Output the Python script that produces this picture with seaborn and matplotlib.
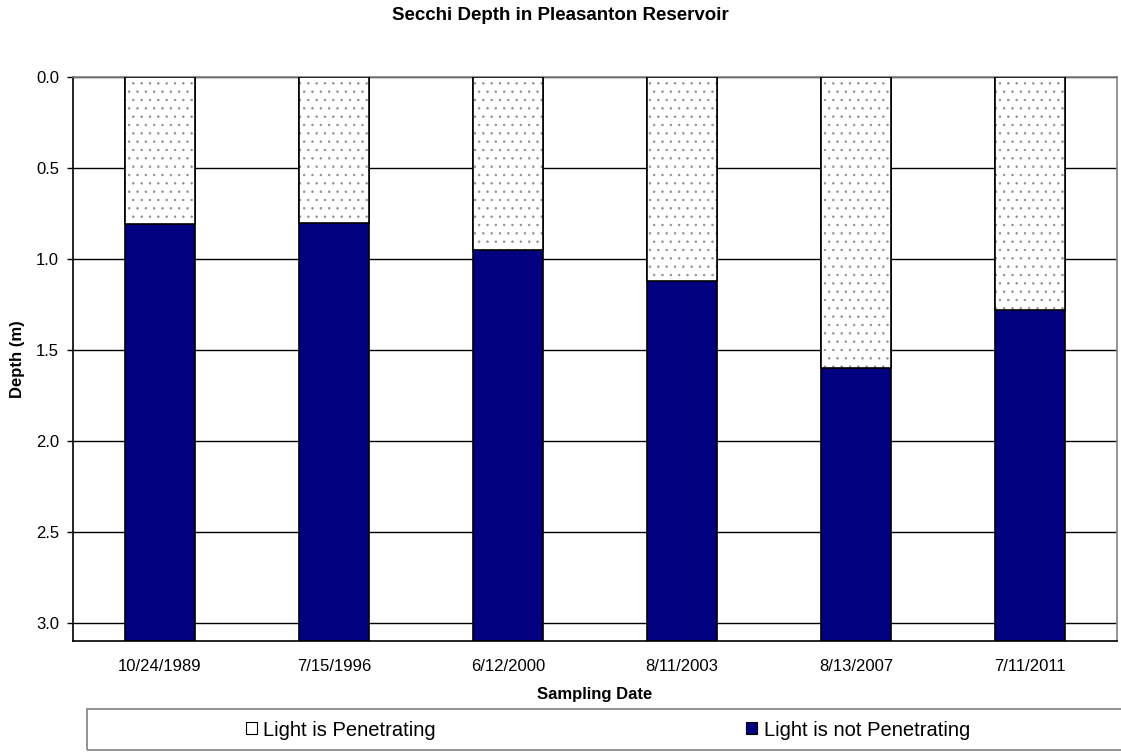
import numpy as np
import pandas as pd
import matplotlib
matplotlib.use("Agg")
import matplotlib.pyplot as plt
from matplotlib.patches import Patch, Rectangle
import seaborn as sns

# ---- data ----
dates = ["10/24/1989", "7/15/1996", "6/12/2000", "8/11/2003", "8/13/2007", "7/11/2011"]
secchi_depth = [0.81, 0.80, 0.95, 1.12, 1.60, 1.28]      # light is penetrating (0 -> secchi)
bottom_depth = [3.1, 3.1, 3.1, 3.1, 3.1, 3.1]            # light is not penetrating (secchi -> bottom)
y_ticks = [0.0, 0.5, 1.0, 1.5, 2.0, 2.5, 3.0]
series_names = ["Light is Penetrating", "Light is not Penetrating"]

df = pd.DataFrame({"date": dates, "secchi": secchi_depth, "bottom": bottom_depth})

sns.set_style("white")
plt.rcParams["font.family"] = ["Liberation Sans", "DejaVu Sans"]
plt.rcParams["hatch.linewidth"] = 0.5
for k in ["text.color", "axes.labelcolor", "xtick.color", "ytick.color"]:
    plt.rcParams[k] = "black"

NAVY = "#000080"
GRAY = "#808080"
DOT = "#8c8c8c"

fig = plt.figure(figsize=(11.21, 7.52), dpi=100)
W, H = 1121, 752
ax = fig.add_axes([73 / W, 1 - 641 / H, (1117 - 73) / W, (641 - 77) / H])

# navy bars (not penetrating) full column
sns.barplot(data=df, x="date", y="bottom", color=NAVY, saturation=1, width=0.4,
            edgecolor="black", linewidth=1.2, errorbar=None, ax=ax, zorder=2)
# white dotted bars (penetrating)
sns.barplot(data=df, x="date", y="secchi", color="white", saturation=1, width=0.4,
            edgecolor=DOT, linewidth=0, hatch="..", errorbar=None, ax=ax, zorder=3)
# black outline of penetrating part
sns.barplot(data=df, x="date", y="secchi", color="black", fill=False, width=0.4,
            linewidth=1.2, errorbar=None, ax=ax, zorder=4)

ax.set_ylim(3.1, 0)
ax.set_xlim(-0.5, len(dates) - 0.5)
ax.set_yticks(y_ticks)
ax.set_yticklabels([f"{v:.1f}" for v in y_ticks], fontsize=12)
ax.yaxis.grid(True, color="black", linewidth=1.0)
ax.set_axisbelow(True)

ax.tick_params(axis="x", which="major", length=0, pad=13, labelsize=12)
ax.set_xticks(np.arange(-0.5, len(dates), 1.0), minor=True)
ax.tick_params(axis="x", which="minor", length=4, width=1, color="black", direction="out")
ax.tick_params(axis="y", which="major", left=True, length=4, width=1, color="black",
               direction="out", pad=6)

for side in ["left", "bottom"]:
    ax.spines[side].set_color("black")
    ax.spines[side].set_linewidth(1.2)
for side in ["top", "right"]:
    ax.spines[side].set_visible(True)
    ax.spines[side].set_color(GRAY)
    ax.spines[side].set_linewidth(1.2)

ax.set_xlabel("Sampling Date", fontsize=12, fontweight="bold", va="center")
ax.xaxis.set_label_coords(0.5, (641 - 694) / 564)
ax.set_ylabel("Depth (m)", fontsize=12, fontweight="bold", va="center")
ax.yaxis.set_label_coords((18 - 73) / 1044, 0.5)

fig.text(0.5, 1 - 15 / H, "Secchi Depth in Pleasanton Reservoir", ha="center", va="center",
         fontsize=13.5, fontweight="bold")

# legend box
fig.patches.append(Rectangle((87 / W, 1 - 750 / H), 1.05 - 87 / W, 41 / H,
                             transform=fig.transFigure, fill=False, edgecolor=GRAY,
                             linewidth=1.2))
handles = [Patch(facecolor="white", edgecolor="black", linewidth=0.8),
           Patch(facecolor=NAVY, edgecolor="black", linewidth=0.8)]
fig.legend(handles, series_names, ncol=2, frameon=False, loc="center",
           bbox_to_anchor=(607.8 / W, 1 - 730 / H), fontsize=14.5,
           handlelength=0.55, handleheight=0.55, handletextpad=0.33,
           columnspacing=15.4, borderpad=0)

fig.savefig("out.png", dpi=100)
